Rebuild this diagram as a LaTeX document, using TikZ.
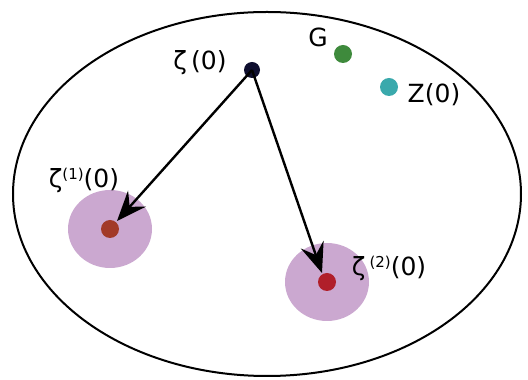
\documentclass[tikz,border=0pt]{standalone}
\usepackage{fontspec}
\setmainfont{DejaVu Sans}
\usetikzlibrary{arrows.meta}
\definecolor{navy}{HTML}{0E0E2E}
\definecolor{gdot}{HTML}{3E8A3C}
\definecolor{tdot}{HTML}{3AA9AC}
\definecolor{rdotA}{HTML}{A23A28}
\definecolor{rdotB}{HTML}{B01F2A}
\definecolor{disc}{HTML}{CBA8D0}
\newcommand{\supx}[1]{\raisebox{8pt}{\fontsize{15}{16}\selectfont(#1)}}
\tikzset{
  dot/.style={circle,inner sep=0pt,minimum size=#1},
  lbl/.style={font=\fontsize{25}{30}\selectfont,inner sep=0pt},
  arr/.style={line width=2.4pt,-{Stealth[length=30pt,width=24pt,inset=11pt]}}
}
\begin{document}
\begin{tikzpicture}[x=1pt,y=1pt]
\useasboundingbox (0,0) rectangle (528,380);
\draw[line width=2pt] (267,186) ellipse [x radius=254, y radius=182];
\fill[disc] (110,151) ellipse [x radius=42, y radius=39];
\fill[disc] (327,98) ellipse [x radius=42, y radius=39];
\node[dot=16pt,fill=navy] (z0) at (252,310) {};
\node[dot=18pt,fill=gdot] (g) at (343,326) {};
\node[dot=18pt,fill=tdot] (zz) at (389,293) {};
\node[dot=18pt,fill=rdotA] (z1) at (110,151) {};
\node[dot=18pt,fill=rdotB] (z2) at (327,98) {};
\node[lbl] (lz0) at (200,317) {ζ\,(0)};
\node[lbl] (lg) at (318,343) {G};
\node[lbl] (lzz) at (434,285) {Z(0)};
\node[lbl] (lz1) at (84,200) {ζ\supx{1}(0)};
\node[lbl] (lz2) at (389,112) {ζ\,\supx{2}(0)};
\draw[arr] (z0.center) -- (117,159);
\draw[arr] (z0.center) -- (322,107);
\end{tikzpicture}
\end{document}
